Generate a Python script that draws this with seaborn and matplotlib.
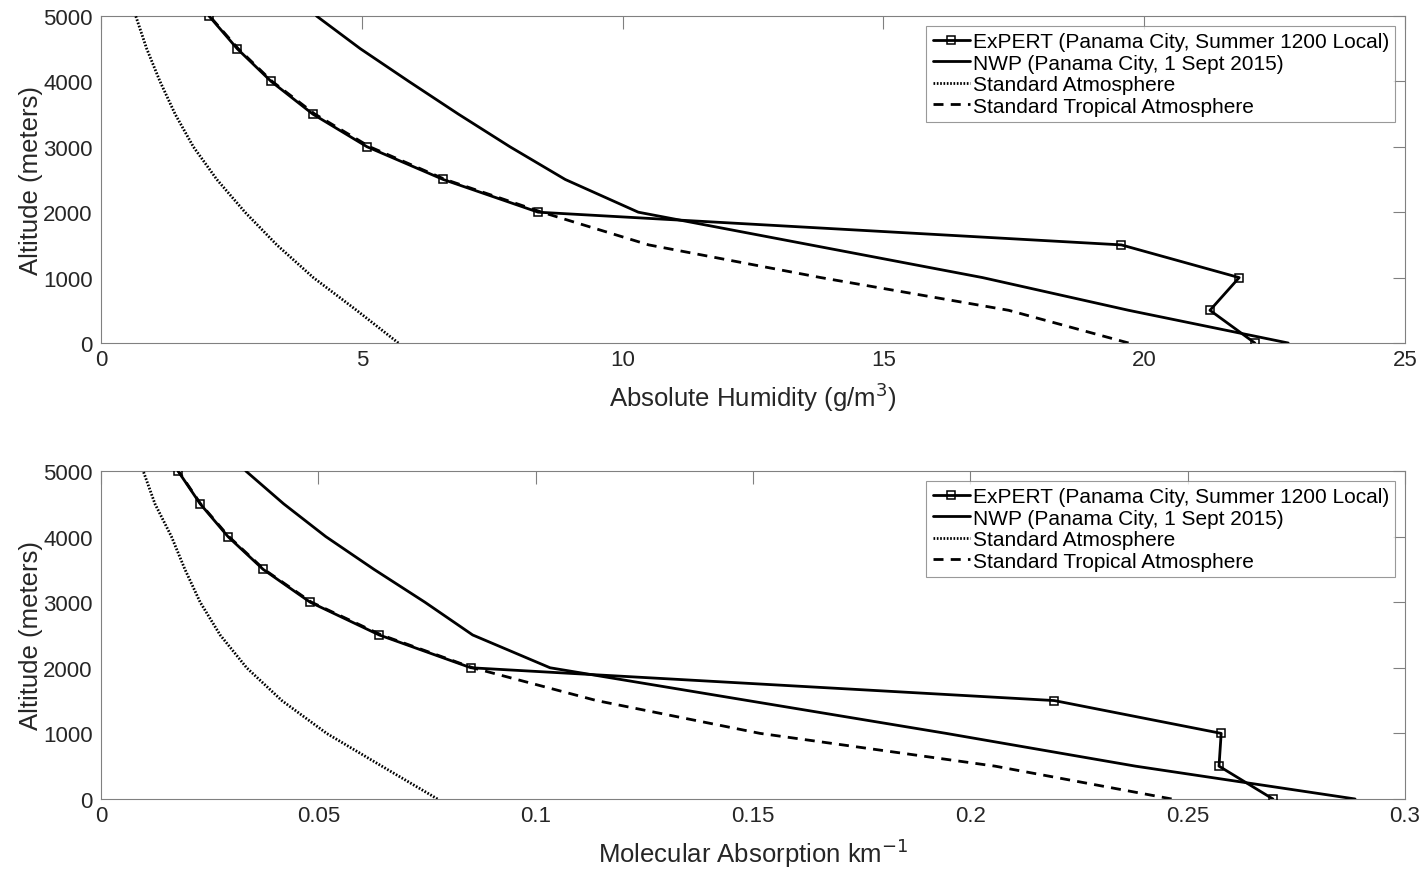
# %%
# Humidity / absorption profiles vs altitude, two stacked panels
import numpy as np
import pandas as pd
import matplotlib
matplotlib.use("Agg")
import matplotlib.pyplot as plt
import seaborn as sns
from matplotlib.ticker import FuncFormatter

sns.set_theme(style="white")
plt.rcParams["font.family"] = ["Liberation Sans", "DejaVu Sans"]

# %%
# Data
alt = [0, 500, 1000, 1500, 2000, 2500, 3000, 3500, 4000, 4500, 5000]

expert_ah = [22.12, 21.26, 21.82, 19.56, 8.38, 6.56, 5.10, 4.06, 3.26, 2.61, 2.07]
nwp_ah = [22.76, 19.7, 16.9, 13.6, 10.3, 8.9, 7.84, 6.85, 5.9, 4.97, 4.13]
std_ah = [5.70, 4.90, 4.07, 3.37, 2.76, 2.22, 1.77, 1.42, 1.13, 0.875, 0.665]
trop_ah = [19.7, 17.4, 13.8, 10.5, 8.45, 6.6, 5.15, 4.1, 3.28, 2.63, 2.08]

expert_ma = [0.2696, 0.2572, 0.2577, 0.2193, 0.0851, 0.0640, 0.0481, 0.0373, 0.0292, 0.0228, 0.0177]
nwp_ma = [0.2885, 0.2380, 0.1944, 0.1488, 0.1033, 0.0855, 0.0745, 0.0628, 0.0517, 0.0420, 0.0333]
std_ma = [0.0774, 0.0646, 0.0519, 0.0416, 0.0335, 0.0274, 0.0228, 0.0193, 0.0162, 0.0124, 0.0097]
trop_ma = [0.2463, 0.2057, 0.1516, 0.1140, 0.0855, 0.0645, 0.0484, 0.0375, 0.0294, 0.0229, 0.0178]

labels = [
    "ExPERT (Panama City, Summer 1200 Local)",
    "NWP (Panama City, 1 Sept 2015)",
    "Standard Atmosphere",
    "Standard Tropical Atmosphere",
]

# %%
fig = plt.figure(figsize=(14.25, 8.7), dpi=100)
ax1 = fig.add_axes([0.0709, 0.6046, 0.9151, 0.3759])
ax2 = fig.add_axes([0.0709, 0.0805, 0.9151, 0.3770])

lw = 2.0
grey = "#808080"
txt = "#262626"


def draw_panel(ax, expert, nwp, std, trop, xmax, xticks, xlabel):
    sns.lineplot(x=expert, y=alt, sort=False, estimator=None, ax=ax, color="black", lw=lw,
                 marker="s", markersize=6, markerfacecolor="none", markeredgecolor="black",
                 markeredgewidth=1.1, label=labels[0], zorder=4)
    sns.lineplot(x=nwp, y=alt, sort=False, estimator=None, ax=ax, color="black", lw=lw,
                 label=labels[1], zorder=3)
    sns.lineplot(x=std, y=alt, sort=False, estimator=None, ax=ax, color="black", lw=lw,
                 linestyle=(0, (0.6, 0.6)), label=labels[2], zorder=3)
    sns.lineplot(x=trop, y=alt, sort=False, estimator=None, ax=ax, color="black", lw=lw,
                 linestyle=(0, (3.6, 2.6)), label=labels[3], zorder=2)

    ax.set_xlim(0, xmax)
    ax.set_ylim(0, 5000)
    ax.set_xticks(xticks)
    ax.set_yticks(range(0, 5001, 1000))
    ax.xaxis.set_major_formatter(FuncFormatter(lambda v, p: f"{v:g}"))
    ax.tick_params(direction="in", length=9, width=0.8, color=grey, labelcolor=txt,
                   labelsize=16, top=True, right=True)
    ax.tick_params(axis="x", pad=4)
    ax.tick_params(axis="y", pad=6)
    for s in ax.spines.values():
        s.set_color(grey)
        s.set_linewidth(0.8)
    ax.set_xlabel(xlabel, fontsize=18.5, color=txt, labelpad=7)
    ax.set_ylabel("Altitude (meters)", fontsize=18.5, color=txt, labelpad=0)

    leg = ax.legend(loc="upper right", fontsize=15, frameon=True, fancybox=False,
                    handlelength=1.8, handletextpad=0.12, labelspacing=0.12,
                    borderpad=0.3, borderaxespad=0.48)
    leg.get_frame().set_edgecolor(grey)
    leg.get_frame().set_linewidth(0.8)
    for t in leg.get_texts():
        t.set_color("black")


draw_panel(ax1, expert_ah, nwp_ah, std_ah, trop_ah, 25, range(0, 26, 5),
           "Absolute Humidity (g/m$^3$)")
draw_panel(ax2, expert_ma, nwp_ma, std_ma, trop_ma, 0.3, np.arange(0, 0.31, 0.05),
           "Molecular Absorption km$^{-1}$")

fig.savefig("out.png", dpi=100)
